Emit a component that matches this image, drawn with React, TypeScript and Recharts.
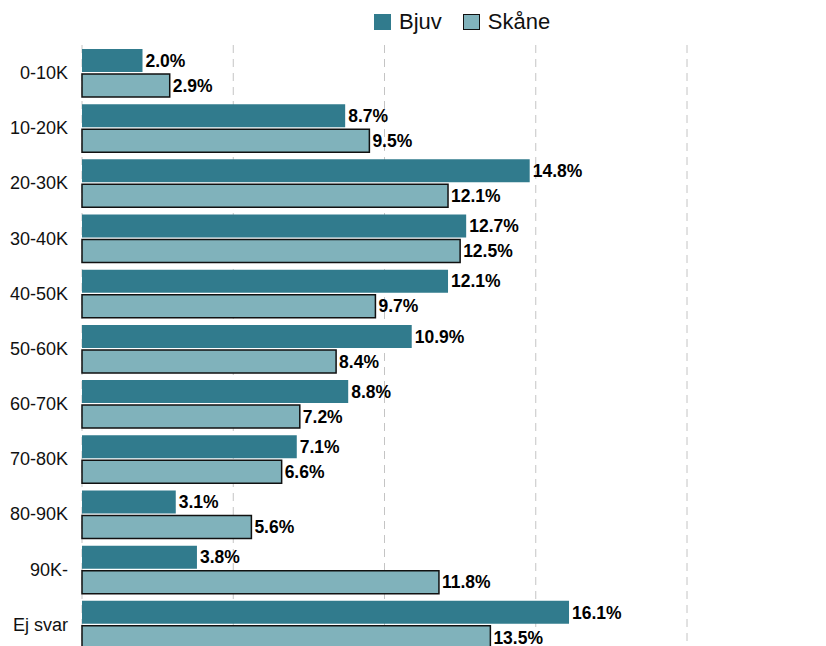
import { Bar, BarChart, CartesianGrid, LabelList, Legend, XAxis, YAxis } from "recharts";

const CATEGORIES = ["0-10K", "10-20K", "20-30K", "30-40K", "40-50K", "50-60K", "60-70K", "70-80K", "80-90K", "90K-", "Ej svar"];
const BJUV = [2.0, 8.7, 14.8, 12.7, 12.1, 10.9, 8.8, 7.1, 3.1, 3.8, 16.1];
const SKANE = [2.9, 9.5, 12.1, 12.5, 9.7, 8.4, 7.2, 6.6, 5.6, 11.8, 13.5];
const X_TICKS = [0, 5, 10, 15, 20];

const DARK = "#317b8d";
const LIGHT = "#80b2bb";
const FONT = "'Liberation Sans', Arial, sans-serif";

const data = CATEGORIES.map((c, i) => ({ cat: c, bjuv: BJUV[i], skane: SKANE[i] }));

const fmt = (v: any) => `${Number(v).toFixed(1)}%`;

function LegendBox() {
  const item = (label: string, fill: string, stroke?: string) => (
    <div style={{ display: "flex", alignItems: "center", marginRight: 21 }}>
      <div
        style={{
          width: stroke ? 15 : 17,
          height: stroke ? 14 : 16,
          background: fill,
          border: stroke ? `1.5px solid ${stroke}` : "none",
          marginRight: 8,
        }}
      />
      <span style={{ fontSize: 22, color: "#111", fontFamily: FONT }}>{label}</span>
    </div>
  );
  return (
    <div style={{ display: "flex", alignItems: "center" }}>
      {item("Bjuv", DARK)}
      {item("Skåne", LIGHT, "#111")}
    </div>
  );
}

export default function App() {
  return (
    <div style={{ fontFamily: FONT }}>
      <BarChart
        width={810}
        height={648}
        data={data}
        layout="vertical"
        margin={{ top: 37, right: 131, bottom: 4, left: 0 }}
        barGap={2}
        barSize={23}
      >
        <CartesianGrid horizontal={false} stroke="#c4c4c4" strokeDasharray="8 6" />
        <XAxis type="number" domain={[0, 20]} ticks={X_TICKS} hide />
        <YAxis
          type="category"
          dataKey="cat"
          width={74}
          axisLine={false}
          tickLine={false}
          tick={{ fontSize: 18, fill: "#111", fontFamily: FONT }}
          tickMargin={8}
        />
        <Legend
          verticalAlign="middle"
          content={() => <LegendBox />}
          wrapperStyle={{ top: 1, left: 366, width: "auto" }}
        />
        <Bar dataKey="bjuv" name="Bjuv" fill={DARK} isAnimationActive={false}>
          <LabelList
            dataKey="bjuv"
            position="right"
            offset={3}
            formatter={fmt}
            style={{ fontSize: 17.5, fontWeight: 700, fill: "#000", fontFamily: FONT }}
          />
        </Bar>
        <Bar dataKey="skane" name="Skåne" fill={LIGHT} stroke="#111" strokeWidth={1.5} isAnimationActive={false}>
          <LabelList
            dataKey="skane"
            position="right"
            offset={3}
            formatter={fmt}
            style={{ fontSize: 17.5, fontWeight: 700, fill: "#000", fontFamily: FONT }}
          />
        </Bar>
      </BarChart>
    </div>
  );
}
